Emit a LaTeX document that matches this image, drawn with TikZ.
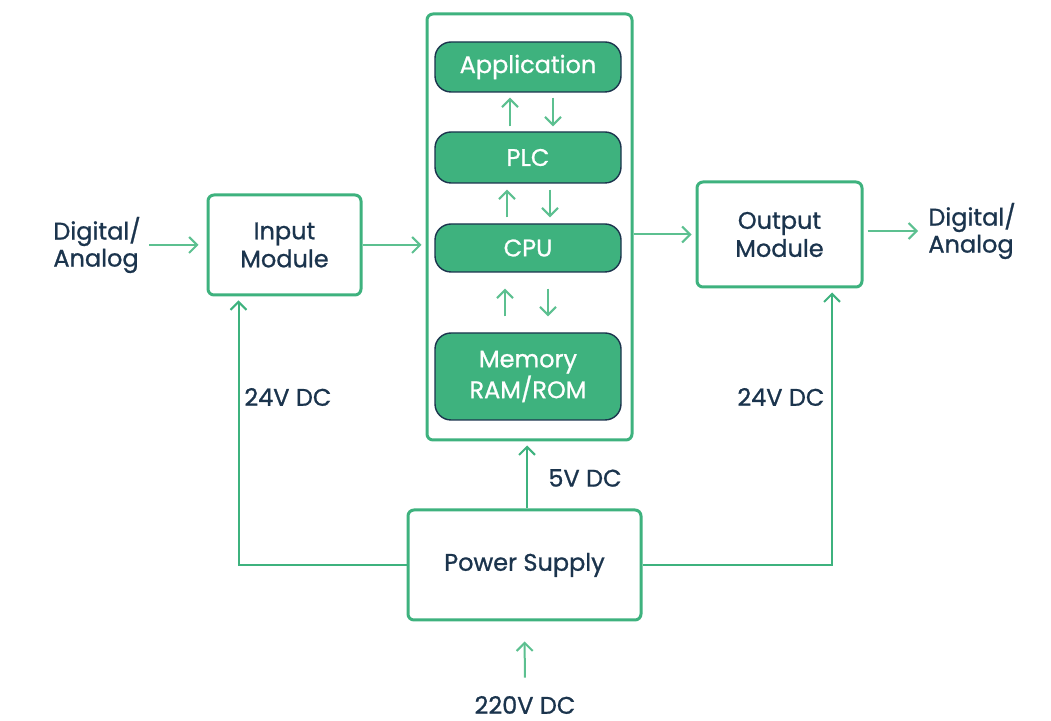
\documentclass[tikz,border=0pt]{standalone}
\usepackage{fontspec}
\setmainfont{Poppins}[FakeBold=0.9]
\usepackage{tikz}
\usetikzlibrary{%
	arrows.meta,%
	calc,%
	positioning
}
\definecolor{plcgreen}{RGB}{62,178,126}
\definecolor{arrowgreen}{RGB}{92,192,144}
\definecolor{inkblue}{RGB}{27,52,77}
\tikzset{
	block/.style={draw=plcgreen,line width=1.5pt,rounded corners=3pt,fill=white,
		text=inkblue,align=center,font=\fontsize{12}{14}\selectfont,inner sep=0pt},
	unit/.style={draw=inkblue,line width=0.7pt,rounded corners=8pt,fill=plcgreen,
		text=white,align=center,font=\fontsize{12}{14}\selectfont,
		minimum width=93pt,inner sep=0pt},
	tag/.style={text=inkblue,align=left,font=\fontsize{12}{13.5}\selectfont,inner sep=0pt},
	flow/.style={draw=arrowgreen,line width=1pt,-{Straight Barb[length=4pt,width=8pt]}},
	wire/.style={draw=plcgreen,line width=1pt}
}

\begin{document}
\begin{tikzpicture}[x=0.5pt,y=-0.5pt]
	\useasboundingbox (0,0) rectangle (1051,721);
	% controller frame with its stack
	\node[block,minimum width=102.5pt,minimum height=213pt] (frame) at (529.5,227) {};
	\node[unit,minimum height=25pt] (app) at (528,67) {Application};
	\node[unit,minimum height=25.5pt] (plc) at (528,157.5) {PLC};
	\node[unit,minimum height=24pt] (cpu) at (528,248) {CPU};
	\node[unit,minimum height=43.5pt] (mem) at (528,376.5) {Memory\\RAM/ROM};
	\foreach \A/\B/\X/\S in {app/plc/-9/2.5,plc/cpu/-10.5/3,cpu/mem/-11.5/8}
	{\draw[flow,shorten <=\S pt,shorten >=\S pt] ([xshift=\X pt]\B.north) -- ([xshift=\X pt]\A.south);
		\draw[flow,shorten <=\S pt,shorten >=\S pt] ([xshift=\X pt+21.5pt]\A.south) -- ([xshift=\X pt+21.5pt]\B.north);}
	% modules
	\node[block,minimum width=76.5pt,minimum height=50pt] (in) at (284.5,245) {Input\\Module};
	\node[block,minimum width=82.5pt,minimum height=52.5pt] (out) at (779.5,234.5) {Output\\Module};
	\node[block,minimum width=116.5pt,minimum height=55pt] (ps) at (524.5,565) {Power Supply};
	% labels
	\node[tag,anchor=west] (din) at (53,245) {Digital/\\Analog};
	\node[tag,anchor=west] (dout) at (928,231) {Digital/\\Analog};
	\node[tag,anchor=west] (vin) at (244,397) {24V DC};
	\node[tag,anchor=west] (vout) at (737,397) {24V DC};
	\node[tag,anchor=west] (vcpu) at (548,478) {5V DC};
	\node[tag] (vmain) at (525,705) {220V DC};
	% signal path
	\draw[flow,shorten <=4pt,shorten >=4pt] (din.east |- in) -- (in.west);
	\draw[flow,shorten >=2pt] (in.east) -- (in.east -| frame.west);
	\draw[flow,shorten >=2pt] (frame.east |- out) -- (out.west);
	\draw[flow,shorten <=2pt,shorten >=5pt] (out.east |- dout) -- (dout.west);
	% supply lines
	\draw[wire,-{Straight Barb[length=4pt,width=8pt]},shorten >=2pt] (ps.west) -| ([xshift=-23pt]in.south);
	\draw[wire,-{Straight Barb[length=4pt,width=8pt]},shorten >=2pt] (ps.east) -| ([xshift=26.25pt]out.south);
	\draw[wire,-{Straight Barb[length=4pt,width=8pt]},shorten >=2pt] ([xshift=1.25pt]ps.north) -- ([xshift=1.25pt]ps.north |- frame.south);
	\draw[flow,shorten <=9pt,shorten >=10pt] (vmain.north) -- (ps.south);
\end{tikzpicture}
\end{document}
